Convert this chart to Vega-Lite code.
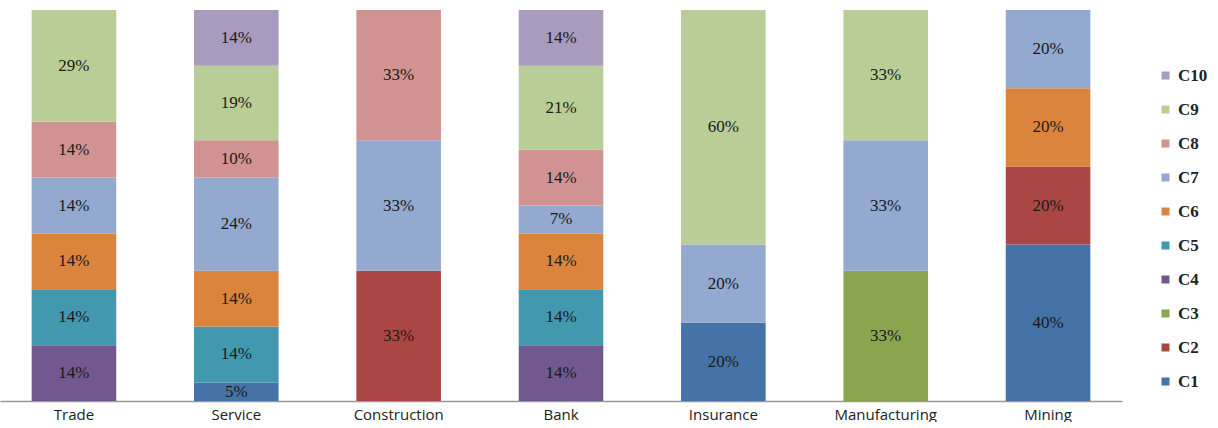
{
  "$schema": "https://vega.github.io/schema/vega-lite/v6.json",
  "width": 1122,
  "height": 391,
  "padding": {"left": 0, "top": 10, "right": 0, "bottom": 0},
  "autosize": {"type": "pad"},
  "background": "white",
  "config": {"view": {"stroke": null}},
  "data": {
    "values": [
      {"sector": "Trade", "series": "C4", "k": 4, "count": 1},
      {"sector": "Trade", "series": "C5", "k": 5, "count": 1},
      {"sector": "Trade", "series": "C6", "k": 6, "count": 1},
      {"sector": "Trade", "series": "C7", "k": 7, "count": 1},
      {"sector": "Trade", "series": "C8", "k": 8, "count": 1},
      {"sector": "Trade", "series": "C9", "k": 9, "count": 2},
      {"sector": "Service", "series": "C1", "k": 1, "count": 1},
      {"sector": "Service", "series": "C5", "k": 5, "count": 3},
      {"sector": "Service", "series": "C6", "k": 6, "count": 3},
      {"sector": "Service", "series": "C7", "k": 7, "count": 5},
      {"sector": "Service", "series": "C8", "k": 8, "count": 2},
      {"sector": "Service", "series": "C9", "k": 9, "count": 4},
      {"sector": "Service", "series": "C10", "k": 10, "count": 3},
      {"sector": "Construction", "series": "C2", "k": 2, "count": 1},
      {"sector": "Construction", "series": "C7", "k": 7, "count": 1},
      {"sector": "Construction", "series": "C8", "k": 8, "count": 1},
      {"sector": "Bank", "series": "C4", "k": 4, "count": 2},
      {"sector": "Bank", "series": "C5", "k": 5, "count": 2},
      {"sector": "Bank", "series": "C6", "k": 6, "count": 2},
      {"sector": "Bank", "series": "C7", "k": 7, "count": 1},
      {"sector": "Bank", "series": "C8", "k": 8, "count": 2},
      {"sector": "Bank", "series": "C9", "k": 9, "count": 3},
      {"sector": "Bank", "series": "C10", "k": 10, "count": 2},
      {"sector": "Insurance", "series": "C1", "k": 1, "count": 1},
      {"sector": "Insurance", "series": "C7", "k": 7, "count": 1},
      {"sector": "Insurance", "series": "C9", "k": 9, "count": 3},
      {"sector": "Manufacturing", "series": "C3", "k": 3, "count": 1},
      {"sector": "Manufacturing", "series": "C7", "k": 7, "count": 1},
      {"sector": "Manufacturing", "series": "C9", "k": 9, "count": 1},
      {"sector": "Mining", "series": "C1", "k": 1, "count": 2},
      {"sector": "Mining", "series": "C2", "k": 2, "count": 1},
      {"sector": "Mining", "series": "C6", "k": 6, "count": 1},
      {"sector": "Mining", "series": "C7", "k": 7, "count": 1}
    ]
  },
  "transform": [
    {"stack": "count", "groupby": ["sector"], "sort": [{"field": "k", "order": "ascending"}], "offset": "normalize", "as": ["y0", "y1"]},
    {"calculate": "(datum.y0 + datum.y1) / 2", "as": "mid"},
    {"calculate": "datum.y1 - datum.y0", "as": "pct"}
  ],
  "encoding": {
    "x": {
      "field": "sector",
      "type": "nominal",
      "sort": ["Trade", "Service", "Construction", "Bank", "Insurance", "Manufacturing", "Mining"],
      "scale": {"paddingInner": 0.479, "paddingOuter": 0.195},
      "axis": {
        "title": null,
        "labelAngle": 0,
        "ticks": false,
        "domainColor": "#999999",
        "domainWidth": 1.5,
        "labelFont": "Open Sans",
        "labelFontSize": 15,
        "labelFontWeight": 500,
        "labelColor": "#222222",
        "labelPadding": 6
      }
    }
  },
  "layer": [
    {
      "mark": {"type": "bar"},
      "encoding": {
        "y": {"field": "y0", "type": "quantitative", "scale": {"domain": [0, 1], "nice": false}, "axis": null},
        "y2": {"field": "y1"},
        "color": {
          "field": "series",
          "type": "nominal",
          "scale": {
            "domain": ["C10", "C9", "C8", "C7", "C6", "C5", "C4", "C3", "C2", "C1"],
            "range": ["#A99BBD", "#B9CD96", "#D19392", "#93A9CF", "#DB843D", "#4198AF", "#71588F", "#89A54E", "#AA4643", "#4572A7"]
          },
          "legend": {
            "title": null,
            "orient": "none",
            "legendX": 1157,
            "legendY": 57,
            "direction": "vertical",
            "symbolType": "square",
            "symbolSize": 64,
            "symbolStrokeWidth": 0,
            "labelFont": "Liberation Serif",
            "labelFontSize": 17,
            "labelFontWeight": "bold",
            "labelColor": "#222222",
            "rowPadding": 16,
            "labelOffset": 4
          }
        }
      }
    },
    {
      "mark": {"type": "text", "font": "Liberation Serif", "fontSize": 17, "color": "#1a1a1a", "baseline": "middle", "align": "center"},
      "encoding": {
        "y": {"field": "mid", "type": "quantitative"},
        "text": {"field": "pct", "type": "quantitative", "format": ".0%"}
      }
    }
  ]
}
